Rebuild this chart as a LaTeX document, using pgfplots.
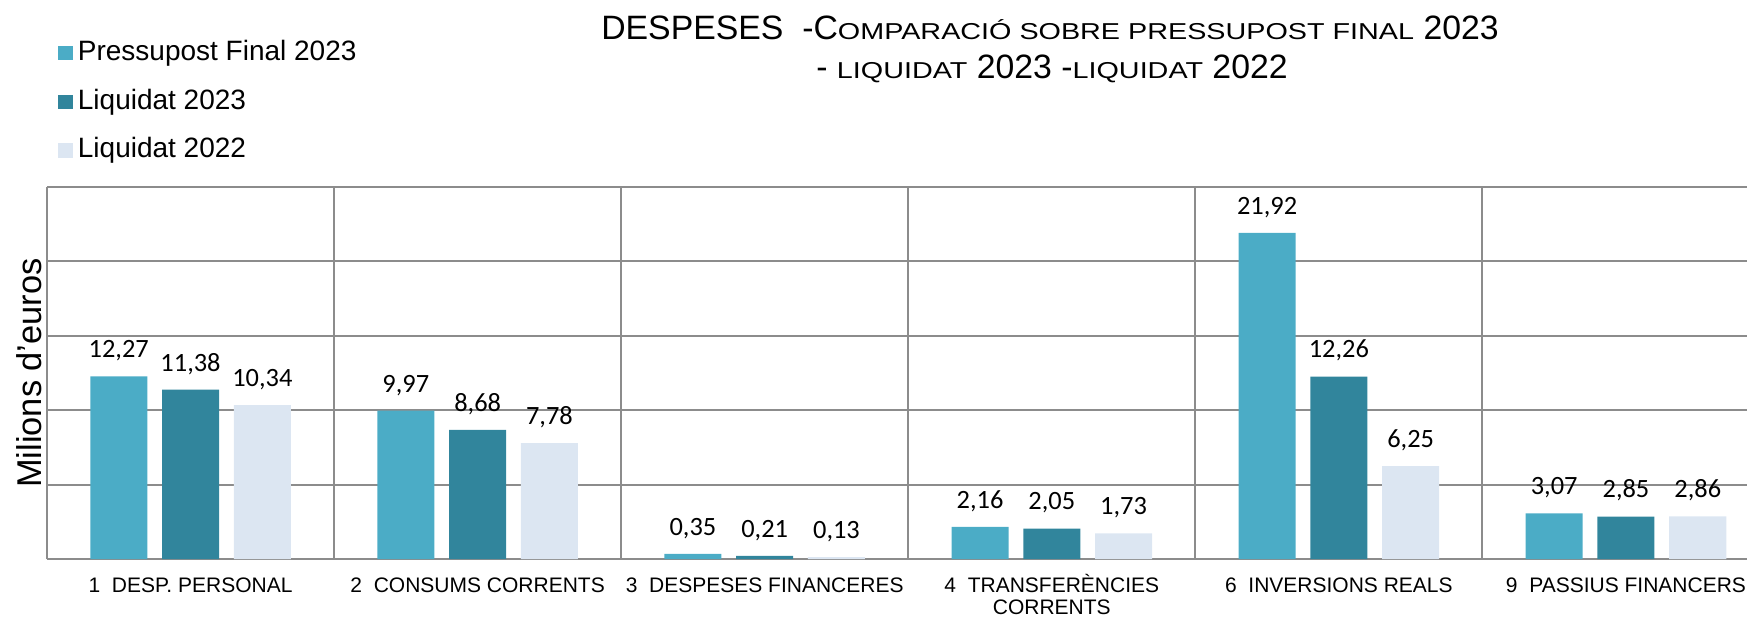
\documentclass[border=0pt]{standalone}
\usepackage{fontspec}
\usepackage{graphicx}
\setmainfont{Liberation Sans}
\newfontfamily\numfont{Carlito}
\usepackage{pgfplots}
\pgfplotsset{compat=1.18}
\definecolor{cA}{RGB}{75,172,198}
\definecolor{cB}{RGB}{49,133,156}
\definecolor{cC}{RGB}{220,230,242}
\definecolor{gridc}{RGB}{140,140,140}
\newcommand\sm[1]{\scalebox{1.25}[1]{\fontsize{11.5}{14}\selectfont #1}}
\pgfplotsset{sq legend/.style={legend image code/.code={\fill[##1] (0pt,-3.6pt) rectangle (7.2pt,3.6pt);}}}
\begin{document}
\begin{tikzpicture}
\begin{axis}[
 at={(23.5pt,29pt)}, anchor=south west,
 scale only axis, width=850pt, height=186pt,
 ybar, bar width=0.1986,
 xmin=-0.5, xmax=5.4216, ymin=0, ymax=25,
 xtick={0,1,2,3,4,5},
 xticklabels={{1\ \ DESP. PERSONAL},{2\ \ CONSUMS CORRENTS},{3\ \ DESPESES FINANCERES},{\begin{tabular}[t]{@{}c@{}}4\ \ TRANSFERÈNCIES\\[-1.4pt]CORRENTS\end{tabular}},{6\ \ INVERSIONS REALS},{9\ \ PASSIUS FINANCERS}},
 minor xtick={-0.5,0.5,1.5,2.5,3.5,4.5},
 ytick={0,5,10,15,20,25}, yticklabels={,,,,,},
 xminorgrids, ymajorgrids,
 major grid style={draw=gridc, line width=1pt},
 minor grid style={draw=gridc, line width=1pt},
 axis line style={draw=none},
 tick style={draw=none},
 hide obscured x ticks=false, hide obscured y ticks=false,
 xticklabel style={font=\fontsize{10.5}{12.5}\selectfont, anchor=base, yshift=-12.5pt, inner sep=0pt},
 ylabel={Milions d'euros},
 ylabel style={at={(axis description cs:-0.00294,0.5)}, anchor=base, font=\fontsize{17.2}{20}\selectfont, inner sep=0pt},
 nodes near coords={\pgfmathprintnumber[fixed, fixed zerofill, precision=2, use comma, assume math mode=true]{\pgfplotspointmeta}},
 every node near coord/.append style={anchor=base, yshift=9.3pt, inner sep=0pt, font=\numfont\fontsize{13.2}{15}\selectfont, text=black},
 legend style={at={(axis description cs:0.00665,1.396)}, anchor=north west, draw=none, fill=none, inner sep=0pt, outer sep=0pt, row sep=10.8pt, column sep=2.6pt, font=\fontsize{14}{16}\selectfont, nodes={inner sep=0pt, text height=10.5pt, text depth=3pt}},
 legend cell align=left,
 sq legend,
]
\addplot[fill=cA, draw=none, bar shift=-0.25, sq legend] coordinates {(0,12.27) (1,9.97) (2,0.35) (3,2.16) (4,21.92) (5,3.07)};
\addplot[fill=cB, draw=none, bar shift=0, sq legend] coordinates {(0,11.38) (1,8.68) (2,0.21) (3,2.05) (4,12.26) (5,2.85)};
\addplot[fill=cC, draw=none, bar shift=0.25, sq legend] coordinates {(0,10.34) (1,7.78) (2,0.13) (3,1.73) (4,6.25) (5,2.86)};
\legend{Pressupost Final 2023, Liquidat 2023, Liquidat 2022}
\end{axis}
\node[anchor=base, inner sep=0pt] at (525pt,288.8pt) {\fontsize{16.9}{20}\selectfont DESPESES\ \ -C\sm{OMPARACIÓ SOBRE PRESSUPOST FINAL} 2023};
\node[anchor=base, inner sep=0pt] at (526pt,269pt) {\fontsize{16.9}{20}\selectfont - \sm{LIQUIDAT} 2023 -\sm{LIQUIDAT} 2022};
\pgfresetboundingbox
\path[use as bounding box] (0,0) rectangle (873.5pt,308.5pt);
\end{tikzpicture}
\end{document}
